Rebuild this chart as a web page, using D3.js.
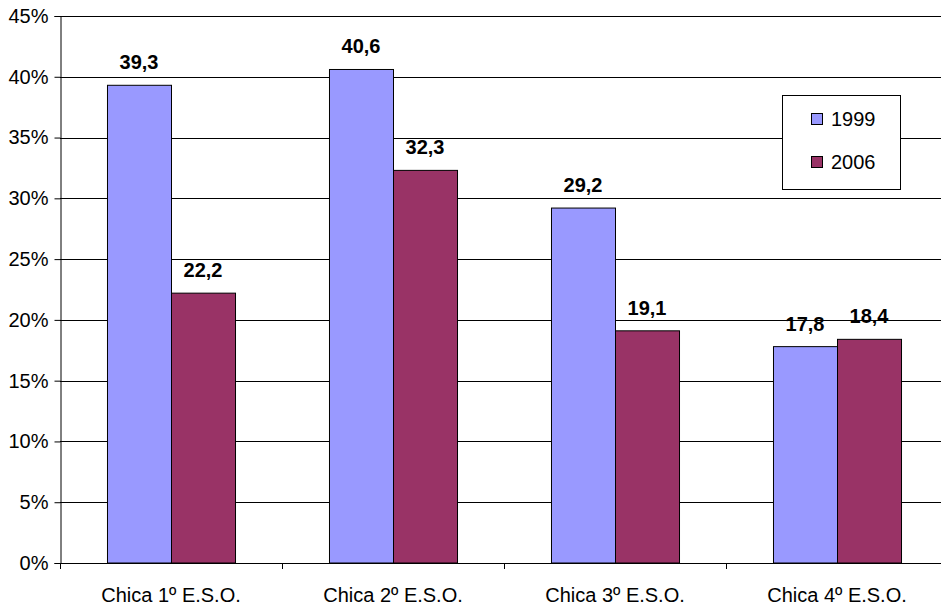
<!DOCTYPE html>
<html><head><meta charset="utf-8">
<script src="https://cdn.jsdelivr.net/npm/d3@7"></script>
<style>
body{margin:0;background:#fff;}
svg{display:block;font-family:"Liberation Sans Narrow","Arial Narrow","Liberation Sans",sans-serif;}
</style></head>
<body>
<svg id="chart" width="941" height="609"></svg>
<script>
const categories = ["Chica 1º E.S.O.", "Chica 2º E.S.O.", "Chica 3º E.S.O.", "Chica 4º E.S.O."];
const seriesNames = ["1999", "2006"];
const values1999 = [39.3, 40.6, 29.2, 17.8];
const values2006 = [22.2, 32.3, 19.1, 18.4];
const yTicks = [0, 5, 10, 15, 20, 25, 30, 35, 40, 45];
const colors = ["#9999FF", "#993366"];

(function () {
const svg = d3.select("#chart");
const mLeft = 60, mRight = 948, mTop = 16, mBottom = 563;
const FONT = "Liberation Sans Narrow, Arial Narrow, Liberation Sans, sans-serif";

const x = d3.scaleBand().domain(categories).range([mLeft, mRight]).paddingInner(0).paddingOuter(0);
const xs = d3.scaleBand().domain(seriesNames).range([0, x.bandwidth()]).paddingInner(0).paddingOuter(0.734);
const y = d3.scaleLinear().domain([0, 45]).range([mBottom, mTop]);

// gridlines
svg.append("g").selectAll("line").data(yTicks.filter(d => d > 0)).join("line")
  .attr("x1", mLeft).attr("x2", mRight)
  .attr("y1", d => Math.round(y(d)) + 0.5).attr("y2", d => Math.round(y(d)) + 0.5)
  .attr("stroke", "#000").attr("stroke-width", 1);

// y axis
const yAxis = d3.axisLeft(y).tickValues(yTicks).tickFormat(d => d + "%").tickSize(6).tickPadding(6);
const gy = svg.append("g").attr("transform", `translate(${mLeft + 0.5},0)`).call(yAxis);
gy.select(".domain").attr("stroke", "#000");
gy.selectAll(".tick line").attr("stroke", "#000");
gy.selectAll(".tick text").attr("font-size", 20).attr("fill", "#000").attr("font-family", FONT);

// bars
const data = categories.map((c, i) => ({c, vals: [values1999[i], values2006[i]]}));
const groups = svg.append("g").selectAll("g").data(data).join("g")
  .attr("transform", d => `translate(${x(d.c)},0)`);
groups.selectAll("rect").data(d => d.vals.map((v, j) => ({s: seriesNames[j], v, j}))).join("rect")
  .attr("x", d => xs(d.s) + 0.5).attr("width", xs.bandwidth())
  .attr("y", d => y(d.v)).attr("height", d => y(0) - y(d.v))
  .attr("fill", d => colors[d.j]).attr("stroke", "#000").attr("stroke-width", 1);
groups.selectAll("text").data(d => d.vals.map((v, j) => ({s: seriesNames[j], v, j}))).join("text")
  .attr("x", d => xs(d.s) + xs.bandwidth() / 2)
  .attr("y", d => y(d.v) - 16)
  .attr("text-anchor", "middle").attr("font-size", 20).attr("font-weight", "bold")
  .text(d => d.v.toFixed(1).replace(".", ","));

// x axis
const xAxis = d3.axisBottom(x).tickSize(0).tickPadding(0).tickFormat(d => d);
const gx = svg.append("g").attr("transform", `translate(0,${mBottom + 0.5})`).call(xAxis);
gx.select(".domain").remove();
svg.append("line").attr("x1", mLeft).attr("x2", mRight).attr("y1", mBottom + 0.5).attr("y2", mBottom + 0.5).attr("stroke", "#000");
gx.selectAll(".tick text").attr("font-size", 20).attr("fill", "#000").attr("dy", 0).attr("y", 38).attr("font-family", FONT);
// category tick marks
svg.append("g").selectAll("line").data(d3.range(categories.length + 1)).join("line")
  .attr("x1", i => mLeft + i * x.bandwidth() + 0.5).attr("x2", i => mLeft + i * x.bandwidth() + 0.5)
  .attr("y1", mBottom).attr("y2", mBottom + 6).attr("stroke", "#000");

// legend
const lg = svg.append("g");
lg.append("rect").attr("x", 782.5).attr("y", 95.5).attr("width", 118).attr("height", 94)
  .attr("fill", "#fff").attr("stroke", "#000");
seriesNames.forEach((s, i) => {
  const yy = 113 + i * 43;
  lg.append("rect").attr("x", 811.5).attr("y", yy + 0.5).attr("width", 11).attr("height", 11)
    .attr("fill", colors[i]).attr("stroke", "#000");
  lg.append("text").attr("x", 831).attr("y", yy + 13).attr("font-size", 20).text(s);
});
})();
</script>
</body></html>
